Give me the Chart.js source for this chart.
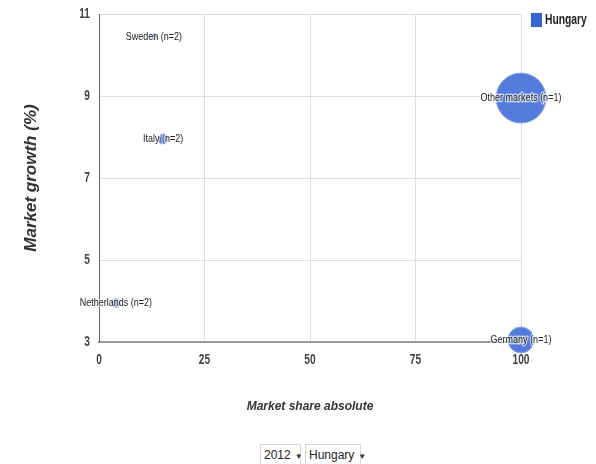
<!DOCTYPE html>
<html>
<head>
<meta charset="utf-8">
<script src="https://cdn.jsdelivr.net/npm/chart.js@4/dist/chart.umd.min.js"></script>
<style>
  html, body { margin: 0; padding: 0; background: #fff; }
  #wrap { position: relative; width: 596px; height: 464px; }
  #cv { position: absolute; left: 0; top: 0; }
  .sel { position: absolute; top: 444px; height: 21px; border: 1px solid #d4d4d4; background: #fff;
         font: 12px "Liberation Sans", Arial, sans-serif; color: #222;
         line-height: 20px; box-sizing: border-box; padding-left: 3px; }
  .sel span { font-size: 8px; color: #333; margin-left: 4px; }
</style>
</head>
<body>
<div id="wrap">
  <canvas id="cv" width="596" height="430"></canvas>
  <div class="sel" style="left:260px;width:41px;">2012<span>&#9660;</span></div>
  <div class="sel" style="left:305px;width:56px;">Hungary<span>&#9660;</span></div>
</div>
<script>
const seriesName = "Hungary";
const markets = ["Sweden (n=2)", "Italy (n=2)", "Netherlands (n=2)", "Other markets (n=1)", "Germany (n=1)"];
const marketShare = [13, 15.2, 4, 100, 100];
const marketGrowth = [10.45, 7.95, 3.95, 8.95, 3.05];
const bubbleSize = [3, 5, 4.5, 25, 13];
const xTicks = [0, 25, 50, 75, 100];
const yTicks = [3, 5, 7, 9, 11];

const wide = '"Liberation Sans", Arial, sans-serif';

function condensedText(ctx, text, x, y, sx, sy) {
  ctx.save();
  ctx.translate(x, y);
  ctx.scale(sx, sy);
  ctx.fillText(text, 0, 0);
  ctx.restore();
}

const drawPlugin = {
  id: 'customText',
  afterDraw(chart) {
    const ctx = chart.ctx;
    const xs = chart.scales.x, ys = chart.scales.y;
    ctx.save();
    // tick labels
    ctx.font = 'bold 12px ' + wide;
    ctx.fillStyle = '#444';
    ctx.textBaseline = 'middle';
    ctx.textAlign = 'right';
    yTicks.forEach(v => condensedText(ctx, String(v), ys.right - 9, ys.getPixelForValue(v), 0.85, 1.15));
    ctx.textAlign = 'center';
    xTicks.forEach(v => condensedText(ctx, String(v), xs.getPixelForValue(v), xs.top + 18, 0.85, 1.15));
    // bubble labels
    const meta = chart.getDatasetMeta(0);
    ctx.font = '10px ' + wide;
    ctx.textAlign = 'center';
    ctx.textBaseline = 'middle';
    meta.data.forEach((el, i) => {
      ctx.save();
      ctx.translate(el.x, el.y);
      ctx.scale(0.9, 1.15);
      ctx.lineWidth = 2.5;
      ctx.lineJoin = 'round';
      ctx.strokeStyle = 'rgba(255,255,255,0.65)';
      ctx.strokeText(markets[i], 0, 0);
      ctx.fillStyle = '#222';
      ctx.fillText(markets[i], 0, 0);
      ctx.restore();
    });
    // legend
    const ds = chart.data.datasets[0];
    ctx.fillStyle = '#3566d2';
    ctx.fillRect(531, 13, 11, 14);
    ctx.font = 'bold 12px ' + wide;
    ctx.textAlign = 'left';
    ctx.fillStyle = '#222';
    condensedText(ctx, ds.label, 545, 20.5, 0.86, 1.15);
    ctx.restore();
  }
};

new Chart(document.getElementById('cv'), {
  type: 'bubble',
  data: {
    datasets: [{
      label: seriesName,
      data: marketShare.map((x, i) => ({ x: x, y: marketGrowth[i], r: bubbleSize[i] })),
      backgroundColor: 'rgba(74,116,218,0.95)',
      borderColor: 'rgba(140,165,230,0.95)',
      borderWidth: 1,
      clip: false
    }]
  },
  options: {
    responsive: false,
    animation: false,
    events: [],
    layout: { autoPadding: false, padding: { left: 17, right: 75, top: 14, bottom: 12 } },
    plugins: { legend: { display: false }, tooltip: { enabled: false } },
    scales: {
      x: {
        type: 'linear', min: 0, max: 100,
        afterBuildTicks(s) { s.ticks = xTicks.map(v => ({ value: v })); },
        afterFit(s) { s.height = 76; },
        grid: { color: '#dedede', drawTicks: false, lineWidth: 1 },
        border: { color: '#9a9a9a', width: 2 },
        ticks: { display: false },
        title: { display: true, text: 'Market share absolute', color: '#333',
                 font: { family: wide, size: 12, weight: 'bold', style: 'italic' } }
      },
      y: {
        type: 'linear', min: 3, max: 11,
        afterBuildTicks(s) { s.ticks = yTicks.map(v => ({ value: v })); },
        afterFit(s) { s.width = 82; },
        grid: { color: '#dedede', drawTicks: false, lineWidth: 1 },
        border: { color: '#666', width: 1 },
        ticks: { display: false },
        title: { display: true, text: 'Market growth (%)', color: '#333',
                 font: { family: wide, size: 17, weight: 'bold', style: 'italic' } }
      }
    }
  },
  plugins: [drawPlugin]
});
</script>
</body>
</html>
